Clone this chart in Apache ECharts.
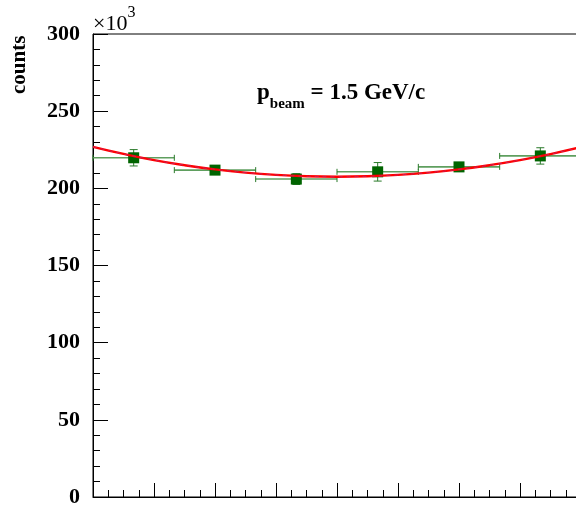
<!DOCTYPE html>
<html>
<head>
<meta charset="utf-8">
<script src="https://cdn.jsdelivr.net/npm/echarts@6/dist/echarts.min.js"></script>
<style>
  html, body { margin: 0; padding: 0; background: #fff; }
  #chart { width: 576px; height: 509px; }
</style>
</head>
<body>
<div id="chart"></div>
<script>
// Bin edges (cos theta) and measured counts per bin
const binLow  = [-1.0, -0.6667, -0.3333, 0.0, 0.3333, 0.6667];
const binHigh = [-0.6667, -0.3333, 0.0, 0.3333, 0.6667, 1.0];
const binCenter = [-0.8333, -0.5, -0.1667, 0.1667, 0.5, 0.8333];
const counts = [219800, 211800, 206000, 210700, 213900, 221000];
const countErr = [5300, 2000, 3500, 6000, 2000, 5300];

// Fitted curve sampled along cos theta
const fitX = [-1.0, -0.875, -0.75, -0.625, -0.5, -0.375, -0.25, -0.125, 0.0,
              0.125, 0.25, 0.375, 0.5, 0.625, 0.75, 0.875, 1.0];
const fitY = [226900, 222300, 218300, 215000, 212300, 210200, 208700, 207800, 207500,
              207800, 208700, 210200, 212300, 215000, 218300, 222200, 226700];

// Y tick values
const yTicks = [0, 50000, 100000, 150000, 200000, 250000, 300000];

const GREEN = '#006400';
const SERIF = '"Liberation Serif", "DejaVu Serif", serif';

const chart = echarts.init(document.getElementById('chart'), null, { renderer: 'canvas' });

const points = binCenter.map((x, i) => [x, counts[i]]);
const errData = binCenter.map((x, i) => [x, counts[i], binLow[i], binHigh[i], countErr[i]]);
const fitData = fitX.map((x, i) => [x, fitY[i]]);

function renderErr(params, api) {
  const x = api.value(0), y = api.value(1);
  const lo = api.value(2), hi = api.value(3), e = api.value(4);
  const pL = api.coord([lo, y]);
  const pR = api.coord([hi, y]);
  const pT = api.coord([x, y + e]);
  const pB = api.coord([x, y - e]);
  const capH = 3, capV = 4;
  return {
    type: 'group',
    children: [
      { type: 'line', shape: { x1: pL[0], y1: pL[1], x2: pR[0], y2: pR[1] },
        style: { stroke: '#5f9f5f', lineWidth: 1.6 } },
      { type: 'line', shape: { x1: pL[0], y1: pL[1] - capH, x2: pL[0], y2: pL[1] + capH },
        style: { stroke: '#2a7a2a', lineWidth: 1 } },
      { type: 'line', shape: { x1: pR[0], y1: pR[1] - capH, x2: pR[0], y2: pR[1] + capH },
        style: { stroke: '#2a7a2a', lineWidth: 1 } },
      { type: 'line', shape: { x1: pT[0], y1: pT[1], x2: pB[0], y2: pB[1] },
        style: { stroke: '#2a7a2a', lineWidth: 1 } },
      { type: 'line', shape: { x1: pT[0] - capV, y1: pT[1], x2: pT[0] + capV, y2: pT[1] },
        style: { stroke: '#2a7a2a', lineWidth: 1 } },
      { type: 'line', shape: { x1: pB[0] - capV, y1: pB[1], x2: pB[0] + capV, y2: pB[1] },
        style: { stroke: '#2a7a2a', lineWidth: 1 } }
    ]
  };
}

chart.setOption({
  animation: false,
  backgroundColor: '#fff',
  grid: {
    left: 93, top: 34, right: -5, bottom: 12,
    show: true, borderColor: '#000', borderWidth: 1,
    containLabel: false, outerBoundsMode: 'none'
  },
  xAxis: {
    type: 'value', min: -1, max: 1, interval: 0.25,
    axisLine: { show: true, onZero: false, lineStyle: { color: '#000', width: 1 } },
    axisTick: { show: true, inside: true, length: 14, lineStyle: { color: '#000' } },
    minorTick: { show: true, splitNumber: 4, length: 7, lineStyle: { color: '#000' } },
    axisLabel: { show: false },
    splitLine: { show: false }
  },
  yAxis: {
    type: 'value', min: 0, max: 300000, interval: 50000,
    axisLine: { show: true, onZero: false, lineStyle: { color: '#000', width: 1 } },
    axisTick: { show: true, inside: true, length: 15, lineStyle: { color: '#000' } },
    minorTick: { show: true, splitNumber: 5, length: 7, lineStyle: { color: '#000' } },
    axisLabel: {
      show: true, margin: 13, color: '#000',
      fontFamily: SERIF, fontWeight: 'bold', fontSize: 22,
      formatter: v => (yTicks.indexOf(v) >= 0 ? String(v / 1000) : '')
    },
    splitLine: { show: false }
  },
  graphic: [
    {
      type: 'text', rotation: Math.PI / 2, position: [9, 94],
      style: { text: 'counts', fill: '#000', font: 'bold 21px ' + SERIF }
    },
    {
      type: 'text', position: [93, 5],
      style: {
        text: '{a|×10}{s|3}', fill: '#000',
        rich: {
          a: { font: '22px ' + SERIF, fill: '#000', verticalAlign: 'bottom', padding: [8, 0, 0, 0] },
          s: { font: '16px ' + SERIF, fill: '#000', verticalAlign: 'top' }
        }
      }
    },
    {
      type: 'text', position: [257, 82],
      style: {
        text: '{p|p}{sub|beam}{p| = 1.5 GeV/c}', fill: '#000',
        rich: {
          p: { font: 'bold 23px ' + SERIF, fill: '#000', verticalAlign: 'top' },
          sub: { font: 'bold 15px ' + SERIF, fill: '#000', verticalAlign: 'bottom', padding: [15, 0, 0, 0] }
        }
      }
    }
  ],
  series: [
    {
      type: 'custom', name: 'errors',
      renderItem: renderErr,
      data: errData, z: 2,
      encode: { x: 0, y: 1 }
    },
    {
      type: 'scatter', name: 'data',
      data: points, symbol: 'rect', symbolSize: [11, 11],
      itemStyle: { color: GREEN, opacity: 1 }, z: 3
    },
    {
      type: 'line', name: 'fit',
      data: fitData, smooth: true, showSymbol: false,
      lineStyle: { color: '#ff0000', width: 2.4 }, z: 4
    },
    {
      type: 'line', name: 'fit-dashed',
      data: fitData, smooth: true, showSymbol: false,
      lineStyle: { color: '#9040c0', width: 1, type: [4, 4], opacity: 0.45 }, z: 5
    }
  ]
});
</script>
</body>
</html>
